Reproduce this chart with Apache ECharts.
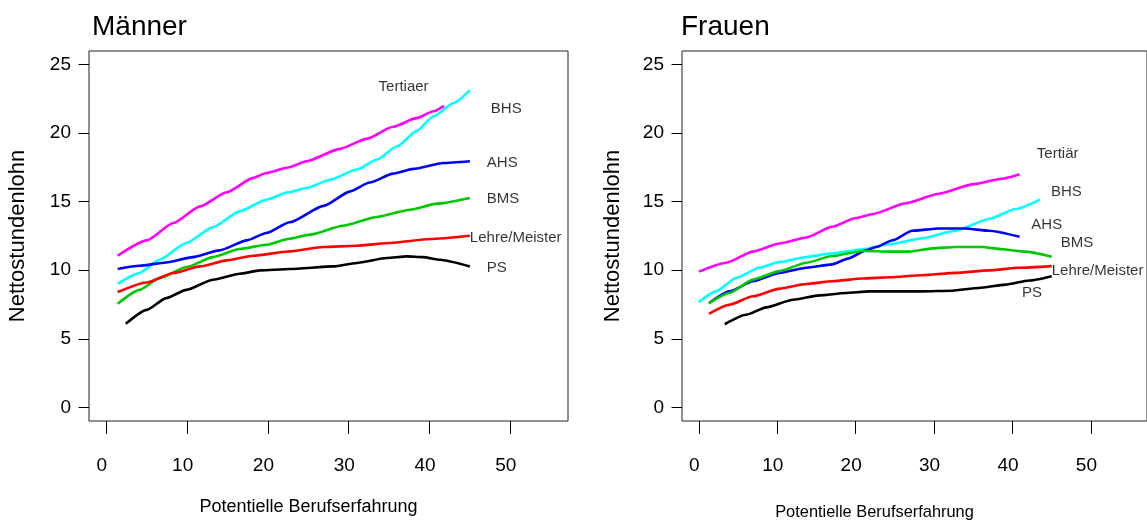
<!DOCTYPE html>
<html>
<head>
<meta charset="utf-8">
<script src="https://cdn.jsdelivr.net/npm/echarts@6/dist/echarts.min.js"></script>
<style>
  html, body { margin: 0; padding: 0; background: #fff; }
  #chart { width: 1147px; height: 527px; }
</style>
</head>
<body>
<div id="chart"></div>
<script>
// Männer: [Berufserfahrung, Nettostundenlohn]
var mTertiaer = [[1.4,11.06],[5.0,12.18],[8.3,13.45],[11.6,14.66],[14.9,15.69],[18.2,16.74],[19.8,17.1],[22.5,17.5],[24.8,17.96],[28.9,18.86],[32.2,19.59],[35.5,20.47],[38.4,21.1],[40.5,21.6],[41.8,22.0]];
var mBHS = [[1.4,9.01],[4.1,9.8],[6.6,10.77],[9.9,11.99],[13.2,13.15],[16.5,14.3],[19.8,15.15],[22.5,15.69],[24.8,16.0],[27.7,16.6],[31.0,17.35],[33.5,18.08],[36.0,19.05],[38.4,20.15],[40.5,21.24],[43.0,22.2],[45.0,23.14]];
var mAHS = [[1.4,10.09],[4.1,10.33],[7.4,10.57],[10.7,10.96],[14.0,11.45],[17.4,12.18],[19.8,12.72],[22.7,13.5],[26.9,14.7],[30.2,15.76],[32.6,16.4],[35.5,17.05],[38.0,17.4],[41.7,17.83],[45.0,17.96]];
var mBMS = [[1.4,7.55],[4.1,8.57],[6.6,9.43],[9.9,10.23],[13.2,10.96],[16.5,11.55],[19.8,11.86],[22.5,12.28],[25.2,12.6],[29.3,13.25],[33.5,13.89],[37.6,14.42],[40.9,14.86],[45.0,15.28]];
var mLehre = [[1.4,8.41],[5.0,9.11],[8.3,9.8],[11.6,10.28],[14.9,10.72],[18.2,11.06],[22.5,11.37],[26.9,11.7],[31.0,11.79],[35.1,11.99],[40.1,12.28],[45.0,12.52]];
var mPS = [[2.4,6.09],[5.0,7.11],[7.4,7.97],[9.9,8.57],[13.2,9.31],[16.5,9.74],[19.0,9.99],[22.7,10.09],[28.1,10.28],[31.0,10.53],[34.7,10.89],[37.2,11.01],[39.2,10.96],[41.3,10.77],[45.0,10.28]];

// Frauen
var fTertiaer = [[0,9.9],[3.5,10.55],[6.9,11.36],[10.3,11.95],[13.7,12.39],[17.0,13.17],[20.0,13.81],[22.2,14.11],[26.4,14.89],[30.6,15.58],[34.9,16.27],[38.7,16.68],[40.9,17.0]];
var fBHS = [[0,7.68],[2.2,8.46],[4.8,9.45],[7.8,10.2],[10.3,10.6],[13.7,10.97],[17.0,11.24],[20.9,11.53],[24.3,11.9],[28.5,12.34],[32.7,12.88],[37.0,13.74],[40.4,14.47],[43.5,15.16]];
var fAHS = [[1.3,7.6],[3.9,8.46],[6.9,9.2],[10.3,9.81],[13.7,10.18],[17.0,10.43],[19.0,10.85],[21.3,11.45],[22.6,11.7],[24.7,12.19],[27.2,12.88],[30.6,13.05],[34.0,13.05],[37.0,12.88],[40.9,12.44]];
var fBMS = [[1.3,7.6],[3.9,8.34],[6.9,9.32],[10.3,9.94],[13.7,10.55],[17.0,11.04],[20.9,11.41],[24.3,11.36],[26.8,11.36],[29.8,11.6],[32.7,11.7],[36.1,11.7],[38.7,11.53],[41.6,11.36],[45.0,10.99]];
var fLehre = [[1.3,6.82],[3.9,7.48],[6.9,8.1],[10.3,8.66],[13.7,9.0],[17.0,9.2],[20.9,9.4],[24.3,9.49],[28.5,9.64],[32.7,9.81],[37.0,9.99],[40.8,10.18],[45.0,10.3]];
var fPS = [[3.3,6.06],[6.0,6.75],[8.6,7.29],[12.0,7.85],[15.4,8.17],[18.7,8.34],[21.7,8.46],[24.3,8.46],[28.5,8.46],[32.3,8.51],[35.7,8.71],[39.1,8.95],[42.1,9.25],[45.0,9.57]];

var xTicks = [0, 10, 20, 30, 40, 50];
var yTicks = [0, 5, 10, 15, 20, 25];

var mNames = ["Tertiaer", "BHS", "AHS", "BMS", "Lehre/Meister", "PS"];
var fNames = ["Tertiär", "BHS", "AHS", "BMS", "Lehre/Meister", "PS"];

// where the curve names sit (data units, left edge of text)
var mLabelAt = [[33.7,23.4],[47.6,21.8],[47.1,17.84],[47.1,15.23],[45.0,12.4],[47.1,10.16]];
var fLabelAt = [[43.1,18.5],[44.9,15.7],[42.4,13.3],[46.15,12.02],[45.0,9.99],[41.2,8.34]];

var colors = ["#ff00ff", "#00ffff", "#0000ff", "#00c800", "#ff0000", "#000000"];
var FONT = "'Liberation Sans', Arial, sans-serif";

var chart = echarts.init(document.getElementById("chart"), null, { renderer: "canvas" });

function xAx(idx, nameFont, namePad) {
  return {
    type: "value", gridIndex: idx, min: -2.15, max: 57.15,
    name: "Potentielle Berufserfahrung", nameLocation: "middle",
    nameGap: idx === 0 ? 77 : 83,
    nameTextStyle: { fontFamily: FONT, fontSize: nameFont, color: "#000", padding: namePad },
    axisLine: { show: false, onZero: false },
    axisTick: { show: true, inside: false, length: 13, customValues: xTicks,
      lineStyle: { color: "#000", width: 1 } },
    axisLabel: { show: true, customValues: xTicks, margin: 35, padding: [0, 9, 0, 0],
      fontFamily: FONT, fontSize: 19, color: "#000" },
    splitLine: { show: false }
  };
}
function yAx(idx, gap) {
  return {
    type: "value", gridIndex: idx, min: -1, max: 26,
    name: "Nettostundenlohn", nameLocation: "middle", nameGap: gap,
    nameTextStyle: { fontFamily: FONT, fontSize: 22, color: "#000" },
    axisLine: { show: false, onZero: false },
    axisTick: { show: true, inside: false, length: 10.5, customValues: yTicks,
      lineStyle: { color: "#000", width: 1 } },
    axisLabel: { show: true, customValues: yTicks, margin: 18,
      fontFamily: FONT, fontSize: 19, color: "#000" },
    splitLine: { show: false }
  };
}

function lines(list, idx) {
  return list.map(function (d, i) {
    return {
      type: "line", xAxisIndex: idx, yAxisIndex: idx, data: d,
      showSymbol: false, smooth: 0.2, smoothMonotone: "x", silent: true,
      lineStyle: { color: colors[i], width: 2.6 }, z: 3
    };
  });
}
function labels(names, at, idx) {
  return {
    type: "scatter", xAxisIndex: idx, yAxisIndex: idx, symbolSize: 0, silent: true,
    data: at.map(function (p, i) { return { value: p, name: names[i] }; }),
    label: { show: true, position: "right", distance: 0, formatter: "{b}",
      fontFamily: FONT, fontSize: 15, color: "#000" }
  };
}

var mSeries = [mTertiaer, mBHS, mAHS, mBMS, mLehre, mPS];
var fSeries = [fTertiaer, fBHS, fAHS, fBMS, fLehre, fPS];

var option = {
  animation: false,
  backgroundColor: "#fff",
  title: [
    { text: "Männer", left: 92, top: 13, padding: 0,
      textStyle: { fontFamily: FONT, fontSize: 28, fontWeight: "normal", color: "#000" } },
    { text: "Frauen", left: 681, top: 13, padding: 0,
      textStyle: { fontFamily: FONT, fontSize: 28, fontWeight: "normal", color: "#000" } }
  ],
  grid: [
    { left: 89, top: 51, width: 479, height: 370, show: true, borderColor: "#222", borderWidth: 1, backgroundColor: "transparent" },
    { left: 682, top: 51, width: 467, height: 370, show: true, borderColor: "#222", borderWidth: 1, backgroundColor: "transparent" }
  ],
  xAxis: [xAx(0, 18, [0, 40, 0, 0]), xAx(1, 16.4, [0, 80, 0, 0])],
  yAxis: [yAx(0, 60), yAx(1, 58)],
  series: lines(mSeries, 0).concat(lines(fSeries, 1))
    .concat([labels(mNames, mLabelAt, 0), labels(fNames, fLabelAt, 1)])
};

chart.setOption(option);
</script>
</body>
</html>
